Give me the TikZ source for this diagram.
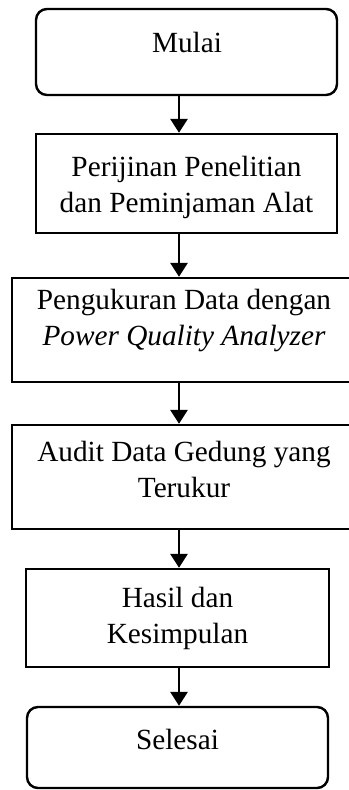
\documentclass[tikz,border=0pt]{standalone}
\usepackage{fontspec}
\setmainfont{Liberation Serif}
\usetikzlibrary{arrows.meta}

\tikzset{
  terminal/.style={draw, line width=1pt, rounded corners=4.5pt, inner sep=0pt},
  process/.style={draw, line width=1pt, inner sep=0pt},
  caption/.style={anchor=north, inner sep=0pt, align=center,
    font=\fontsize{12pt}{14.5pt}\selectfont},
  flow/.style={-{Triangle[width=7pt,length=5.7pt]}, line width=1pt},
}

\begin{document}
\begin{tikzpicture}[x=0.41pt, y=-0.41pt]

  \newcommand\PX{0.41pt}

  \useasboundingbox (0,0) rectangle (348,790);

  %% boxes (sizes in px)
  \node[terminal, minimum width=301*\PX, minimum height=86*\PX]  (mulai)   at (186.5,52)  {};
  \node[process,  minimum width=301*\PX, minimum height=99*\PX]  (ijin)    at (186.5,183.5) {};
  \node[process,  minimum width=344*\PX, minimum height=104*\PX] (ukur)    at (184,330)   {};
  \node[process,  minimum width=344*\PX, minimum height=104*\PX] (audit)   at (184,477)   {};
  \node[process,  minimum width=303*\PX, minimum height=98*\PX]  (hasil)   at (177.5,618) {};
  \node[terminal, minimum width=301*\PX, minimum height=81*\PX]  (selesai) at (177.5,747.5) {};

  %% texts, top aligned like the boxes they sit in
  \node[caption] (tmulai)   at (187,32)    {Mulai};
  \node[caption] (tijin)    at (186.5,156) {Perijinan Penelitian\\dan Peminjaman Alat};
  \node[caption] (tukur)    at (184,289)   {Pengukuran Data dengan\\\textit{Power Quality Analyzer}};
  \node[caption] (taudit)   at (184,441)   {Audit Data Gedung yang\\Terukur};
  \node[caption] (thasil)   at (177.5,587) {Hasil dan\\Kesimpulan};
  \node[caption] (tselesai) at (177.5,729) {Selesai};

  %% arrows all run down one line
  \coordinate (axis) at (179,0);
  \draw[flow] (mulai.south -| axis) -- (ijin.north -| axis);    %% 1 -> 2
  \draw[flow] (ijin.south -| axis)  -- (ukur.north -| axis);    %% 2 -> 3
  \draw[flow] (ukur.south -| axis)  -- (audit.north -| axis);   %% 3 -> 4
  \draw[flow] (audit.south -| axis) -- (hasil.north -| axis);   %% 4 -> 5
  \draw[flow] (hasil.south -| axis) -- (selesai.north -| axis); %% 5 -> 6

\end{tikzpicture}
\end{document}
